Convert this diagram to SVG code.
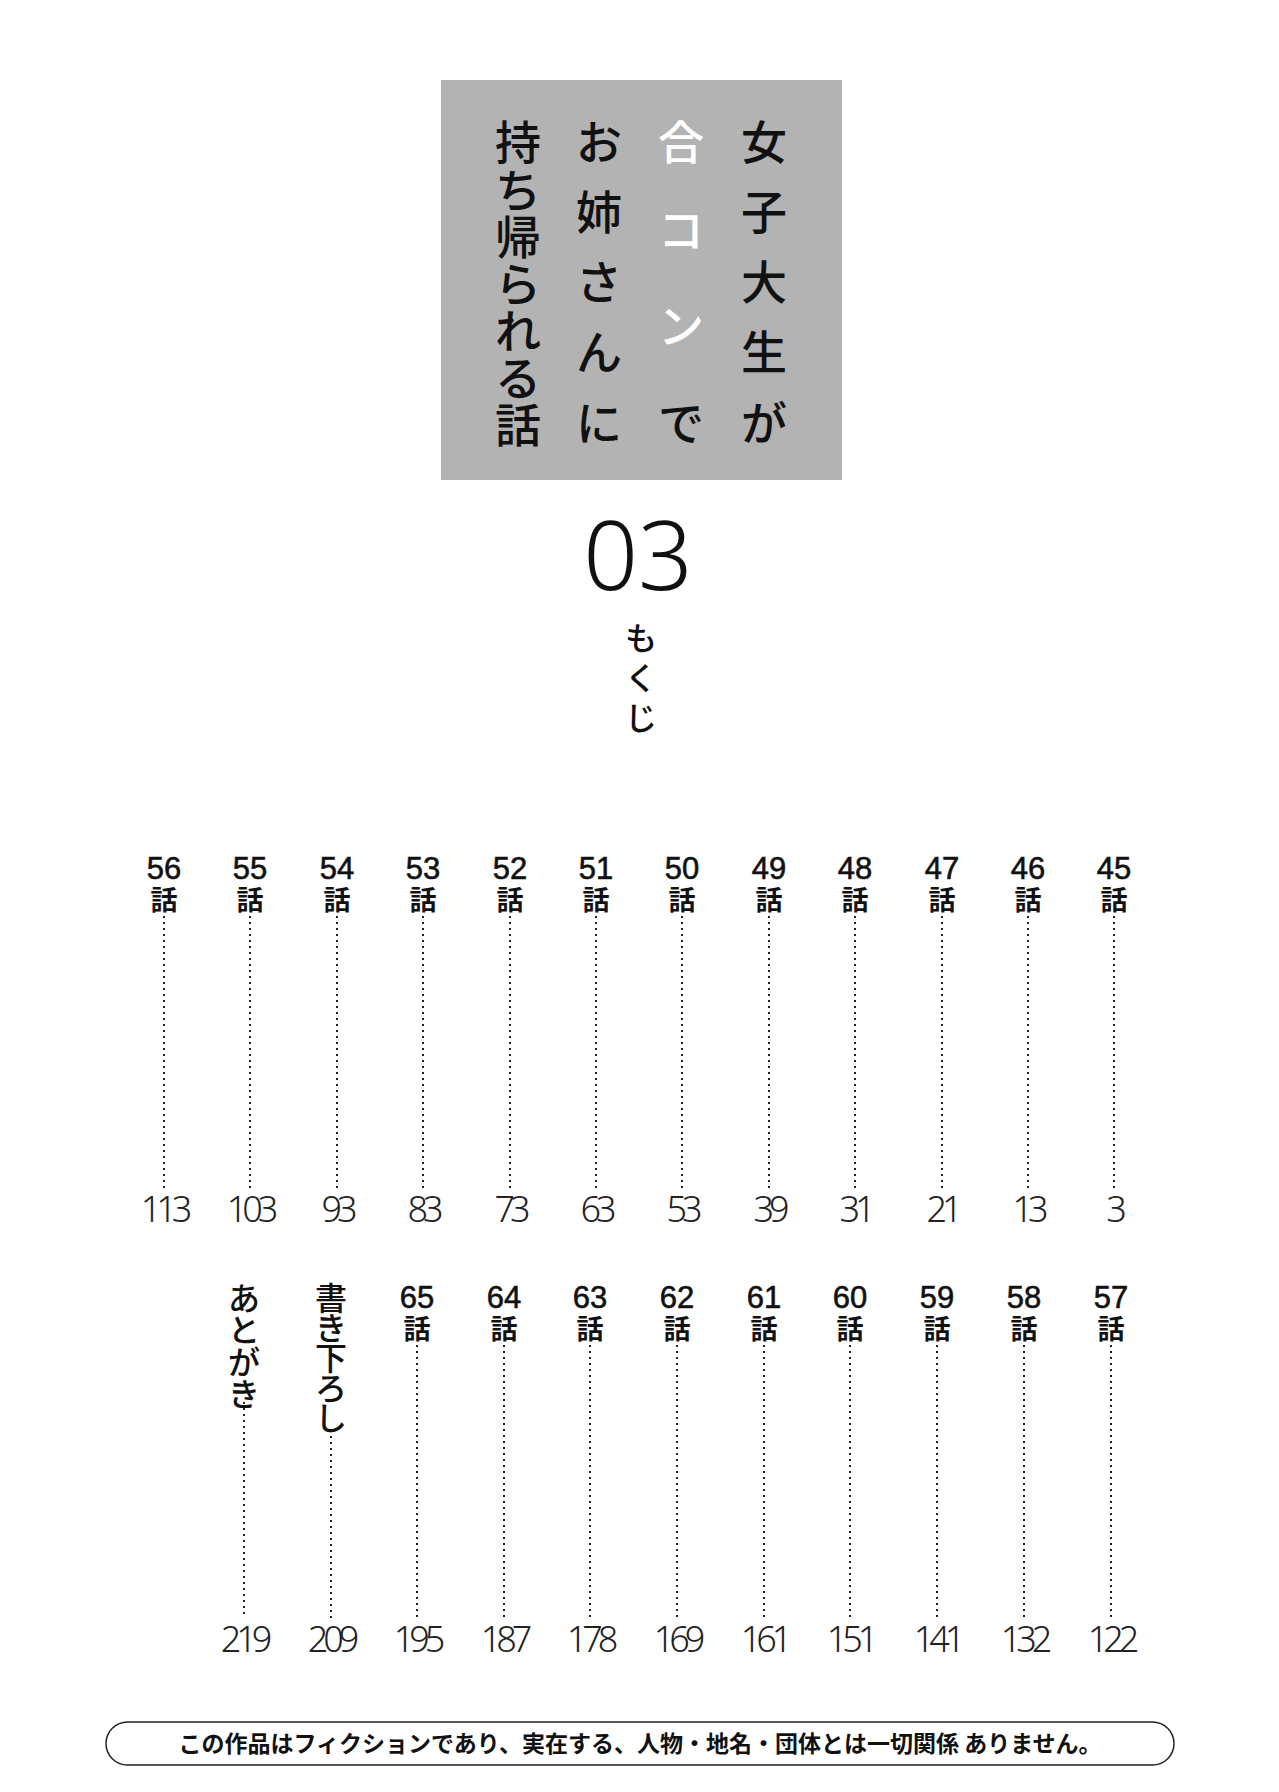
<svg xmlns="http://www.w3.org/2000/svg" width="1279" height="1792" viewBox="0 0 1279 1792">
<style>
.t{font-family:"Noto Sans CJK JP",sans-serif;font-size:46px;font-weight:500;text-anchor:middle;fill:#111}
.w{fill:#fff}
.n{font-family:"Liberation Sans",Arial,sans-serif;font-size:31px;text-anchor:middle;fill:#111;stroke:#111;stroke-width:0.6}
.h{font-family:"Noto Sans CJK JP",sans-serif;font-size:27px;font-weight:bold;text-anchor:middle;fill:#111}
.p{font-family:"Noto Sans",sans-serif;font-size:36px;font-weight:300;text-anchor:middle;fill:#222;letter-spacing:-5px}
.v{font-family:"Noto Sans CJK JP",sans-serif;font-size:32px;font-weight:500;text-anchor:middle;fill:#111}
.d{stroke:#222;stroke-width:2;stroke-dasharray:2 4;fill:none}
</style>
<rect width="1279" height="1792" fill="#fff"/>
<g id="title">
<rect x="441" y="80" width="401" height="400" fill="#b3b3b3"/>
<g class="t">
<text x="764" y="159">女</text><text x="764" y="229">子</text><text x="764" y="299">大</text><text x="764" y="369">生</text><text x="764" y="440">が</text>
<text x="681" y="159" class="t w">合</text><text x="681" y="247" class="t w">コ</text><text x="681" y="343" class="t w">ン</text>
<text x="681" y="440">で</text>
<text x="599" y="159">お</text><text x="599" y="229">姉</text><text x="599" y="299">さ</text><text x="599" y="369">ん</text><text x="599" y="440">に</text>
<text x="518" y="159">持</text><text x="518" y="207">ち</text><text x="518" y="254">帰</text><text x="518" y="301">ら</text><text x="518" y="348">れ</text><text x="518" y="395">る</text><text x="518" y="442">話</text>
</g>
</g>
<g id="volume"><text x="638" y="590" style="font-family:'Noto Sans',sans-serif;font-size:96px;font-weight:300;text-anchor:middle;fill:#111">03</text></g>
<g id="mokuji"><text x="641" y="650" class="v">も</text><text x="641" y="690" class="v">く</text><text x="641" y="730" class="v">じ</text></g>
<g id="connectors">
<path class="d" d="M164 916V1192M250 916V1192M337 916V1192M423 916V1192M510 916V1192M596 916V1192M682 916V1192M769 916V1192M855 916V1192M942 916V1192M1028 916V1192M1114 916V1192"/>
<path class="d" d="M244 1402V1618M331 1430V1618M417 1345V1618M504 1345V1618M590 1345V1618M677 1345V1618M764 1345V1618M850 1345V1618M937 1345V1618M1024 1345V1618M1111 1345V1618"/>
</g>
<g id="row1">
<g id="c56"><text class="n" x="164" y="879">56</text><text class="h" x="164" y="910">話</text><text class="p" x="164" y="1222">113</text></g>
<g id="c55"><text class="n" x="250" y="879">55</text><text class="h" x="250" y="910">話</text><text class="p" x="250" y="1222">103</text></g>
<g id="c54"><text class="n" x="337" y="879">54</text><text class="h" x="337" y="910">話</text><text class="p" x="337" y="1222">93</text></g>
<g id="c53"><text class="n" x="423" y="879">53</text><text class="h" x="423" y="910">話</text><text class="p" x="423" y="1222">83</text></g>
<g id="c52"><text class="n" x="510" y="879">52</text><text class="h" x="510" y="910">話</text><text class="p" x="510" y="1222">73</text></g>
<g id="c51"><text class="n" x="596" y="879">51</text><text class="h" x="596" y="910">話</text><text class="p" x="596" y="1222">63</text></g>
<g id="c50"><text class="n" x="682" y="879">50</text><text class="h" x="682" y="910">話</text><text class="p" x="682" y="1222">53</text></g>
<g id="c49"><text class="n" x="769" y="879">49</text><text class="h" x="769" y="910">話</text><text class="p" x="769" y="1222">39</text></g>
<g id="c48"><text class="n" x="855" y="879">48</text><text class="h" x="855" y="910">話</text><text class="p" x="855" y="1222">31</text></g>
<g id="c47"><text class="n" x="942" y="879">47</text><text class="h" x="942" y="910">話</text><text class="p" x="942" y="1222">21</text></g>
<g id="c46"><text class="n" x="1028" y="879">46</text><text class="h" x="1028" y="910">話</text><text class="p" x="1028" y="1222">13</text></g>
<g id="c45"><text class="n" x="1114" y="879">45</text><text class="h" x="1114" y="910">話</text><text class="p" x="1114" y="1222">3</text></g>
</g>
<g id="row2">
<g id="atogaki"><text class="v" x="244" y="1310">あ</text><text class="v" x="244" y="1342">と</text><text class="v" x="244" y="1374">が</text><text class="v" x="244" y="1406">き</text><text class="p" x="244" y="1652">219</text></g>
<g id="kakioroshi"><text class="v" x="331" y="1310">書</text><text class="v" x="331" y="1340">き</text><text class="v" x="331" y="1370">下</text><text class="v" x="331" y="1400">ろ</text><text class="v" x="331" y="1430">し</text><text class="p" x="331" y="1652">209</text></g>
<g id="c65"><text class="n" x="417" y="1308">65</text><text class="h" x="417" y="1339">話</text><text class="p" x="417" y="1652">195</text></g>
<g id="c64"><text class="n" x="504" y="1308">64</text><text class="h" x="504" y="1339">話</text><text class="p" x="504" y="1652">187</text></g>
<g id="c63"><text class="n" x="590" y="1308">63</text><text class="h" x="590" y="1339">話</text><text class="p" x="590" y="1652">178</text></g>
<g id="c62"><text class="n" x="677" y="1308">62</text><text class="h" x="677" y="1339">話</text><text class="p" x="677" y="1652">169</text></g>
<g id="c61"><text class="n" x="764" y="1308">61</text><text class="h" x="764" y="1339">話</text><text class="p" x="764" y="1652">161</text></g>
<g id="c60"><text class="n" x="850" y="1308">60</text><text class="h" x="850" y="1339">話</text><text class="p" x="850" y="1652">151</text></g>
<g id="c59"><text class="n" x="937" y="1308">59</text><text class="h" x="937" y="1339">話</text><text class="p" x="937" y="1652">141</text></g>
<g id="c58"><text class="n" x="1024" y="1308">58</text><text class="h" x="1024" y="1339">話</text><text class="p" x="1024" y="1652">132</text></g>
<g id="c57"><text class="n" x="1111" y="1308">57</text><text class="h" x="1111" y="1339">話</text><text class="p" x="1111" y="1652">122</text></g>
</g>
<g id="notice">
<rect x="106" y="1722" width="1068" height="43" rx="21.5" fill="#fff" stroke="#222" stroke-width="1.5"/>
<text x="640" y="1752" style="font-family:'Noto Sans CJK JP',sans-serif;font-size:23px;font-weight:bold;text-anchor:middle;fill:#111">この作品はフィクションであり、実在する、人物・地名・団体とは一切関係 ありません。</text>
</g>
</svg>
